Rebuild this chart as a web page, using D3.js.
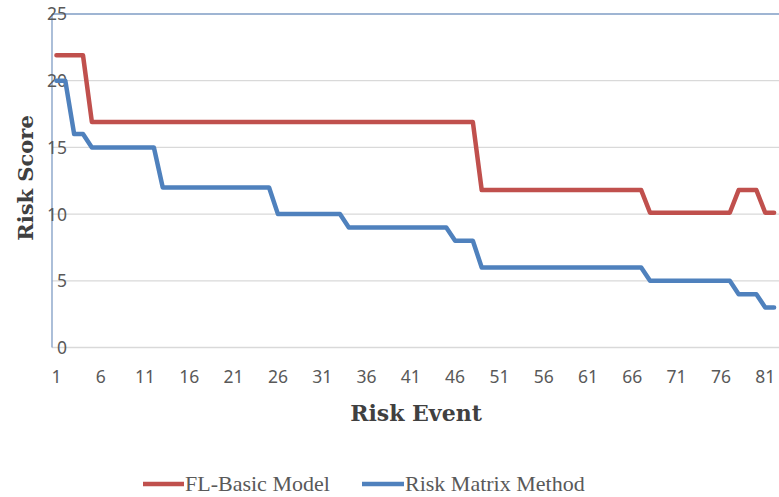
<!DOCTYPE html>
<html>
<head>
<meta charset="utf-8">
<script src="https://cdn.jsdelivr.net/npm/d3@7"></script>
<style>
  html, body { margin: 0; padding: 0; background: #fff; }
  svg { display: block; }
</style>
</head>
<body>
<svg id="chart" width="779" height="497"></svg>
<script>
// Risk events 1..82 on the category axis
const riskEvents = d3.range(1, 83);
const xTickLabels = [1, 6, 11, 16, 21, 26, 31, 36, 41, 46, 51, 56, 61, 66, 71, 76, 81];
const yTickValues = [0, 5, 10, 15, 20, 25];

// Risk score per event, one array per method
const flBasicModel = [
  21.9, 21.9, 21.9, 21.9,
  16.9, 16.9, 16.9, 16.9, 16.9, 16.9, 16.9, 16.9, 16.9, 16.9, 16.9, 16.9, 16.9, 16.9, 16.9, 16.9,
  16.9, 16.9, 16.9, 16.9, 16.9, 16.9, 16.9, 16.9, 16.9, 16.9, 16.9, 16.9, 16.9, 16.9, 16.9, 16.9,
  16.9, 16.9, 16.9, 16.9, 16.9, 16.9, 16.9, 16.9, 16.9, 16.9, 16.9, 16.9,
  11.8, 11.8, 11.8, 11.8, 11.8, 11.8, 11.8, 11.8, 11.8, 11.8, 11.8, 11.8, 11.8, 11.8, 11.8, 11.8,
  11.8, 11.8, 11.8,
  10.1, 10.1, 10.1, 10.1, 10.1, 10.1, 10.1, 10.1, 10.1, 10.1,
  11.8, 11.8, 11.8,
  10.1, 10.1
];
const riskMatrixMethod = [
  20, 20,
  16, 16,
  15, 15, 15, 15, 15, 15, 15, 15,
  12, 12, 12, 12, 12, 12, 12, 12, 12, 12, 12, 12, 12,
  10, 10, 10, 10, 10, 10, 10, 10,
  9, 9, 9, 9, 9, 9, 9, 9, 9, 9, 9, 9,
  8, 8, 8,
  6, 6, 6, 6, 6, 6, 6, 6, 6, 6, 6, 6, 6, 6, 6, 6, 6, 6, 6,
  5, 5, 5, 5, 5, 5, 5, 5, 5, 5,
  4, 4, 4,
  3, 3
];

const seriesNames = ["FL-Basic Model", "Risk Matrix Method"];
const seriesColors = ["#c0504d", "#4f81bd"];
const seriesValues = [flBasicModel, riskMatrixMethod];

const svg = d3.select("#chart");
const plot = { left: 52, right: 779, top: 14, bottom: 347.5 };

// Category axis: each event sits in the middle of its band
const x = d3.scaleBand()
  .domain(riskEvents)
  .range([plot.left, plot.left + 82 * 8.86]);
const xc = d => x(d) + x.bandwidth() / 2;

const y = d3.scaleLinear().domain([0, 25]).range([plot.bottom, plot.top]);

// Horizontal gridlines
svg.append("g")
  .selectAll("line")
  .data(yTickValues.filter(v => v < 25))
  .join("line")
  .attr("x1", plot.left).attr("x2", plot.right)
  .attr("y1", d => y(d)).attr("y2", d => y(d))
  .attr("stroke", "#d9d9d9").attr("stroke-width", 1.3);

// Top border and value axis line
svg.append("line")
  .attr("x1", plot.left).attr("x2", plot.right)
  .attr("y1", y(25)).attr("y2", y(25))
  .attr("stroke", "#7f9cc4").attr("stroke-width", 1.3);
svg.append("line")
  .attr("x1", plot.left).attr("x2", plot.left)
  .attr("y1", y(25)).attr("y2", y(0))
  .attr("stroke", "#7f9cc4").attr("stroke-width", 1.3);

// Value axis labels
const yAxis = d3.axisLeft(y).tickValues(yTickValues).tickSize(0).tickPadding(0);
const yG = svg.append("g").attr("transform", "translate(67,0)").call(yAxis);
yG.select(".domain").remove();
yG.selectAll("text")
  .attr("font-family", "'Noto Sans', 'Open Sans', sans-serif")
  .attr("font-size", 17.5)
  .attr("fill", "#595959")
  .attr("dy", "0.34em");

// Category axis labels
const xAxis = d3.axisBottom(x)
  .tickValues(xTickLabels)
  .tickSize(0)
  .tickPadding(0);
const xG = svg.append("g").attr("transform", "translate(0,371)").call(xAxis);
xG.select(".domain").remove();
xG.selectAll("text")
  .attr("font-family", "'Noto Sans', 'Open Sans', sans-serif")
  .attr("font-size", 17.5)
  .attr("fill", "#595959")
  .attr("dy", "0.71em");

// Series lines
const line = d3.line()
  .x((d, i) => xc(riskEvents[i]))
  .y(d => y(d));

svg.append("g")
  .selectAll("path")
  .data(seriesValues)
  .join("path")
  .attr("d", d => line(d))
  .attr("fill", "none")
  .attr("stroke", (d, i) => seriesColors[i])
  .attr("stroke-width", 4.5)
  .attr("stroke-linejoin", "round")
  .attr("stroke-linecap", "round");

// Axis titles
svg.append("text")
  .attr("transform", "translate(33,178) rotate(-90)")
  .attr("text-anchor", "middle")
  .attr("font-family", "'DejaVu Serif', serif")
  .attr("font-weight", "bold")
  .attr("font-size", 21)
  .attr("fill", "#404040")
  .text("Risk Score");

svg.append("text")
  .attr("x", 416).attr("y", 421)
  .attr("text-anchor", "middle")
  .attr("font-family", "'DejaVu Serif', serif")
  .attr("font-weight", "bold")
  .attr("font-size", 22)
  .attr("fill", "#404040")
  .text("Risk Event");

// Legend
const legendItems = [
  { name: seriesNames[0], color: seriesColors[0], x0: 143, x1: 184 },
  { name: seriesNames[1], color: seriesColors[1], x0: 362, x1: 404 }
];
const legend = svg.append("g");
legendItems.forEach(item => {
  legend.append("line")
    .attr("x1", item.x0).attr("x2", item.x1)
    .attr("y1", 484).attr("y2", 484)
    .attr("stroke", item.color).attr("stroke-width", 4.5);
  legend.append("text")
    .attr("x", item.x1 + 1).attr("y", 491)
    .attr("font-family", "'Liberation Serif', 'Times New Roman', serif")
    .attr("font-size", 22)
    .attr("fill", "#595959")
    .text(item.name);
});
</script>
</body>
</html>
